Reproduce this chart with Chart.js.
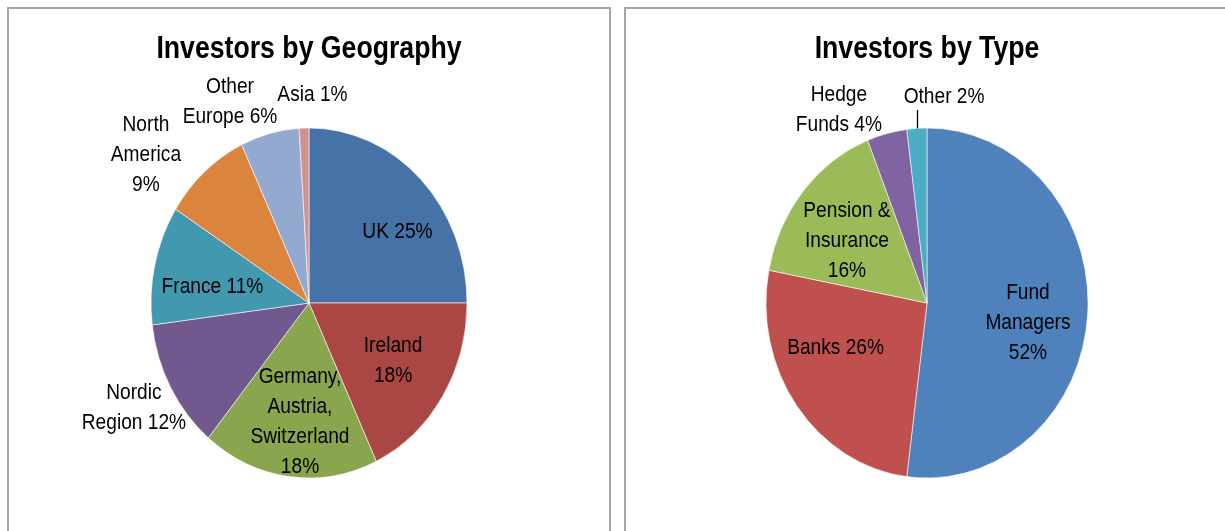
<!DOCTYPE html>
<html><head><meta charset="utf-8">
<script src="https://cdn.jsdelivr.net/npm/chart.js@4"></script>
<style>
html,body{margin:0;padding:0;background:#fff;width:1225px;height:531px;overflow:hidden;position:relative}
.box{position:absolute;top:7px;height:600px;border:2px solid #a6a6a6;box-sizing:border-box}
#b1{left:7px;width:604px}
#b2{left:624px;width:700px}
canvas{position:absolute;left:0;top:0}
</style></head><body>
<div class="box" id="b1"></div><div class="box" id="b2"></div>
<canvas id="c1" width="1225" height="531"></canvas>
<canvas id="c2" width="1225" height="531"></canvas>
<script>
// ---- data ----
const geoTitle = 'Investors by Geography';
const geoCategories = ['UK', 'Ireland', 'Germany,\nAustria,\nSwitzerland', 'Nordic\nRegion', 'France', 'North\nAmerica', 'Other\nEurope', 'Asia'];
const geoValues = [25, 18, 18, 12, 11, 9, 6, 1];
const geoLabelSep = [' ', '\n', '\n', ' ', ' ', '\n', ' ', ' '];
const geoColors = ['#4572A7', '#AA4643', '#89A54E', '#71588F', '#4198AF', '#DB843D', '#93A9CF', '#D19392'];

const typeTitle = 'Investors by Type';
const typeCategories = ['Fund\nManagers', 'Banks', 'Pension &\nInsurance', 'Hedge\nFunds', 'Other'];
const typeValues = [52, 26, 16, 4, 2];
const typeLabelSep = ['\n', ' ', '\n', ' ', ' '];
const typeColors = ['#4F81BD', '#C0504D', '#9BBB59', '#8064A2', '#4BACC6'];

// label placement (offsets from pie centre, in units of radius)
const geoLabelOffsets = [[0.560,-0.449],[0.532,0.367],[-0.057,0.753],[-1.108,0.665],[-0.611,-0.101],[-1.032,-0.937],[-0.500,-1.272],[0.022,-1.316]];
const typeLabelOffsets = [[0.627,0.124],[-0.568,0.280],[-0.497,-0.385],[-0.547,-1.199],[0.106,-1.280]];
const typeLeaders = [false, false, false, false, true];

const FONT = "'Liberation Sans', Arial, sans-serif";
const TEXT_SX = 0.87;   // horizontal condensing of label text
const TITLE_SX = 0.86;  // horizontal condensing of title text

function drawCondensed(ctx, t, x, y, sx) {
  ctx.save();
  ctx.translate(x, y);
  ctx.scale(sx, 1);
  ctx.fillText(t, 0, 0);
  ctx.restore();
}

const piePlugin = {
  id: 'pieExtras',
  beforeDatasetsDraw(chart, args, opts) {
    const arc = chart.getDatasetMeta(0).data[0];
    const ctx = chart.ctx;
    ctx.save();
    ctx.translate(arc.x, arc.y);
    ctx.scale(1, opts.scaleY);
    ctx.translate(-arc.x, -arc.y);
  },
  afterDatasetsDraw(chart, args, opts) {
    const ctx = chart.ctx;
    ctx.restore();
    const meta = chart.getDatasetMeta(0);
    const labels = chart.data.labels;
    const vals = chart.data.datasets[0].data;
    ctx.save();
    ctx.fillStyle = '#000';
    ctx.textAlign = 'center';
    ctx.textBaseline = 'middle';
    // title
    ctx.font = 'bold 31px ' + FONT;
    const ca = chart.chartArea;
    drawCondensed(ctx, opts.title, (ca.left + ca.right) / 2, opts.titleY, TITLE_SX);
    // slice labels
    ctx.font = '22px ' + FONT;
    const lh = 30;
    meta.data.forEach((arc, i) => {
      const r = arc.outerRadius;
      const [fx, fy] = opts.offsets[i];
      const x = arc.x + fx * r, y = arc.y + fy * r;
      const text = labels[i] + opts.seps[i] + vals[i] + '%';
      const lines = text.split('\n');
      const y0 = y - (lines.length - 1) * lh / 2;
      lines.forEach((t, k) => drawCondensed(ctx, t, x, y0 + k * lh, TEXT_SX));
      if (opts.leaders && opts.leaders[i]) {
        const mid = (arc.startAngle + arc.endAngle) / 2;
        const ex = arc.x + Math.cos(mid) * r;
        const ey = arc.y + Math.sin(mid) * r * opts.scaleY;
        const yb = y0 + (lines.length - 1) * lh + 13;
        ctx.beginPath();
        ctx.strokeStyle = '#000';
        ctx.lineWidth = 1.3;
        ctx.moveTo(Math.round(ex) + 0.5, ey);
        ctx.lineTo(Math.round(ex) + 0.5, yb);
        ctx.stroke();
      }
    });
    ctx.restore();
  }
};

function makePie(id, title, cats, vals, colors, radius, scaleY, padLeft, padRight, offsets, seps, leaders) {
  return new Chart(document.getElementById(id), {
    type: 'pie',
    data: {
      labels: cats,
      datasets: [{
        data: vals,
        backgroundColor: colors,
        borderColor: 'rgba(255,255,255,0.7)',
        borderWidth: 0.8,
        radius: radius
      }]
    },
    options: {
      responsive: false,
      animation: false,
      devicePixelRatio: 1,
      events: [],
      layout: { padding: { left: padLeft, right: padRight, top: 76, bottom: 1 } },
      plugins: {
        legend: { display: false },
        tooltip: { enabled: false },
        title: { display: false },
        pieExtras: { title: title, titleY: 49, scaleY: scaleY, offsets: offsets, seps: seps, leaders: leaders }
      }
    },
    plugins: [piePlugin]
  });
}

makePie('c1', geoTitle, geoCategories, geoValues, geoColors, 158, 175 / 158, 0, 1225 - 618, geoLabelOffsets, geoLabelSep, null);
makePie('c2', typeTitle, typeCategories, typeValues, typeColors, 161, 175 / 161, 629, 0, typeLabelOffsets, typeLabelSep, typeLeaders);
</script>
</body></html>
